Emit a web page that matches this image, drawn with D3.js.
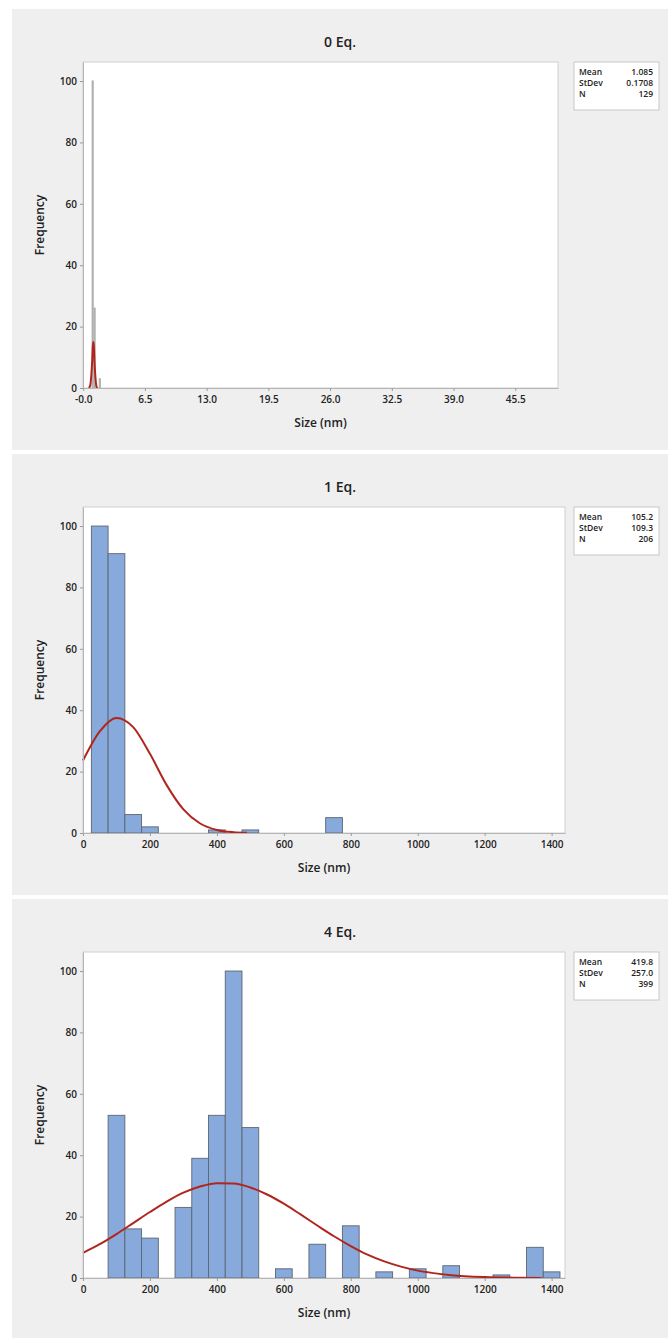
<html>

<head>
  <meta charset="UTF-8">
  <title>Size distributions</title>
  <style>
    body {
      margin: 0;
      padding: 0;
      background-color: #ffffff;
      font-family: "Open Sans", Arial, sans-serif;
    }
  </style>
</head>

<body>
  <div id="chart"></div>

  <script src="https://cdnjs.cloudflare.com/ajax/libs/d3/7.8.5/d3.min.js"></script>
  <script>
    // Data
    const panelTitles = ["0 Eq.", "1 Eq.", "4 Eq."];

    // histogram bins (centre, count) for each panel
    const binCenters0 = [1.0, 1.2, 1.75];
    const counts0 = [100, 26, 3];
    const binWidth0 = 0.1;

    const binCenters1 = [50, 100, 150, 200, 400, 500, 750];
    const counts1 = [100, 91, 6, 2, 1, 1, 5];
    const binWidth1 = 50;

    const binCenters2 = [100, 150, 200, 300, 350, 400, 450, 500, 600, 700, 800, 900, 1000, 1100, 1250, 1350, 1400];
    const counts2 = [53, 16, 13, 23, 39, 53, 100, 49, 3, 11, 17, 2, 3, 4, 1, 10, 2];
    const binWidth2 = 50;

    // fitted normal curves
    const fitX0 = [0.6, 0.75, 0.85, 0.95, 1.02, 1.08, 1.14, 1.2, 1.3, 1.4, 1.5];
    const fitY0 = [0, 1, 4, 9, 14, 15, 13, 8, 3, 0.5, 0];

    const fitX1 = [0, 50, 100, 150, 200, 250, 300, 350, 400, 450, 490];
    const fitY1 = [23.6, 33.1, 37.5, 34.5, 25.8, 15.6, 7.7, 3.1, 1.0, 0.26, 0.08];

    const fitX2 = [0, 50, 100, 150, 200, 250, 300, 350, 400, 450, 500, 550, 600, 650, 700, 750, 800, 850, 900, 950, 1000, 1100, 1200, 1300, 1370];
    const fitY2 = [8.2, 11.0, 14.3, 17.9, 21.5, 24.9, 27.8, 29.8, 30.9, 30.8, 29.5, 27.2, 24.2, 20.7, 17.1, 13.6, 10.4, 7.6, 5.4, 3.7, 2.4, 0.93, 0.31, 0.09, 0.03];

    // summary statistics in the legend boxes
    const meanVals = ["1.085", "105.2", "419.8"];
    const sdVals = ["0.1708", "109.3", "257.0"];
    const nVals = ["129", "206", "399"];

    // axes
    const xDomain0 = [-0.02, 50];
    const xTicks0 = [0, 6.5, 13, 19.5, 26, 32.5, 39, 45.5];
    const xTickLabels0 = ["-0.0", "6.5", "13.0", "19.5", "26.0", "32.5", "39.0", "45.5"];
    const xDomain12 = [0, 1440];
    const xTicks12 = [0, 200, 400, 600, 800, 1000, 1200, 1400];
    const yDomain = [0, 106.2];
    const yTicks = [0, 20, 40, 60, 80, 100];

    const panels = [
      { title: panelTitles[0], centers: binCenters0, counts: counts0, bw: binWidth0, fx: fitX0, fy: fitY0,
        xDomain: xDomain0, xTicks: xTicks0, xLabels: xTickLabels0, top: 9, right: 558, thin: true },
      { title: panelTitles[1], centers: binCenters1, counts: counts1, bw: binWidth1, fx: fitX1, fy: fitY1,
        xDomain: xDomain12, xTicks: xTicks12, xLabels: xTicks12.map(String), top: 454, right: 565, thin: false },
      { title: panelTitles[2], centers: binCenters2, counts: counts2, bw: binWidth2, fx: fitX2, fy: fitY2,
        xDomain: xDomain12, xTicks: xTicks12, xLabels: xTicks12.map(String), top: 899, right: 565, thin: false }
    ];

    const width = 668;
    const height = 1338;
    const panelH = 441;

    const svg = d3.select("#chart")
      .append("svg")
      .attr("width", width)
      .attr("height", height);

    panels.forEach((p, i) => {
      const g = svg.append("g").attr("transform", `translate(0,${p.top})`);

      // panel background
      g.append("rect")
        .attr("x", 12)
        .attr("y", 0)
        .attr("width", width - 12)
        .attr("height", panelH)
        .attr("fill", "#efefef");

      const left = 83;
      const plotTop = 53;
      const plotBottom = 379;

      const x = d3.scaleLinear().domain(p.xDomain).range([left, p.right]);
      const y = d3.scaleLinear().domain(yDomain).range([plotBottom, plotTop]);

      // plot area
      g.append("rect")
        .attr("x", left)
        .attr("y", plotTop)
        .attr("width", p.right - left)
        .attr("height", plotBottom - plotTop)
        .attr("fill", "#ffffff")
        .attr("stroke", "#d0d0d0");

      // title
      g.append("text")
        .attr("x", 340)
        .attr("y", 38)
        .attr("text-anchor", "middle")
        .attr("font-size", 14)
        .attr("font-weight", 600)
        .attr("fill", "#222")
        .text(p.title);

      // bars
      const bins = p.centers.map((c, j) => ({ lo: c - p.bw / 2, hi: c + p.bw / 2, n: p.counts[j] }));
      g.selectAll("rect.bar")
        .data(bins)
        .enter()
        .append("rect")
        .attr("class", "bar")
        .attr("x", d => x(d.lo))
        .attr("y", d => y(d.n))
        .attr("width", d => x(d.hi) - x(d.lo))
        .attr("height", d => y(0) - y(d.n))
        .attr("fill", p.thin ? "#b8b8b8" : "#87a9db")
        .attr("stroke", p.thin ? "#b0b0b0" : "#5d6670")
        .attr("stroke-width", p.thin ? 1.2 : 0.9);

      // fitted curve
      const pts = p.fx.map((v, j) => [v, p.fy[j]]);
      g.append("path")
        .datum(pts)
        .attr("fill", "none")
        .attr("stroke", "#b0261e")
        .attr("stroke-width", 2)
        .attr("d", d3.line()
          .x(d => x(d[0]))
          .y(d => y(d[1]))
          .curve(d3.curveMonotoneX));

      // x axis
      const xAxis = d3.axisBottom(x)
        .tickValues(p.xTicks)
        .tickFormat((d, j) => p.xLabels[j])
        .tickSize(3)
        .tickSizeOuter(0);
      const xa = g.append("g")
        .attr("transform", `translate(0,${plotBottom})`)
        .call(xAxis);
      xa.select(".domain").attr("stroke", "#b5b5b5");
      xa.selectAll(".tick line").attr("stroke", "#9a9a9a");
      xa.selectAll("text")
        .attr("font-family", "'Open Sans', Arial, sans-serif")
        .attr("font-size", 10)
        .attr("font-weight", 600)
        .attr("fill", "#222")
        .attr("dy", "0.85em");

      // y axis
      const yAxis = d3.axisLeft(y)
        .tickValues(yTicks)
        .tickSize(3)
        .tickSizeOuter(0);
      const ya = g.append("g")
        .attr("transform", `translate(${left},0)`)
        .call(yAxis);
      ya.select(".domain").attr("stroke", "#b5b5b5");
      ya.selectAll(".tick line").attr("stroke", "#9a9a9a");
      ya.selectAll("text")
        .attr("font-family", "'Open Sans', Arial, sans-serif")
        .attr("font-size", 10)
        .attr("font-weight", 600)
        .attr("fill", "#222");

      // axis titles
      g.append("text")
        .attr("x", (left + p.right) / 2)
        .attr("y", 418)
        .attr("text-anchor", "middle")
        .attr("font-size", 12)
        .attr("font-weight", 600)
        .attr("fill", "#222")
        .text("Size (nm)");

      g.append("text")
        .attr("transform", `translate(44,${(plotTop + plotBottom) / 2}) rotate(-90)`)
        .attr("text-anchor", "middle")
        .attr("font-size", 12)
        .attr("font-weight", 600)
        .attr("fill", "#222")
        .text("Frequency");

      // legend box
      const lg = g.append("g").attr("transform", "translate(574,53)");
      lg.append("rect")
        .attr("width", 85)
        .attr("height", 48)
        .attr("fill", "#ffffff")
        .attr("stroke", "#c8c8c8");
      const rows = [["Mean", meanVals[i]], ["StDev", sdVals[i]], ["N", nVals[i]]];
      rows.forEach((r, j) => {
        lg.append("text")
          .attr("x", 5)
          .attr("y", 13 + j * 11)
          .attr("font-size", 8.5)
          .attr("font-weight", 600)
          .attr("fill", "#222")
          .text(r[0]);
        lg.append("text")
          .attr("x", 79)
          .attr("y", 13 + j * 11)
          .attr("text-anchor", "end")
          .attr("font-size", 8.5)
          .attr("font-weight", 600)
          .attr("fill", "#222")
          .text(r[1]);
      });
    });
  </script>
</body>

</html>
